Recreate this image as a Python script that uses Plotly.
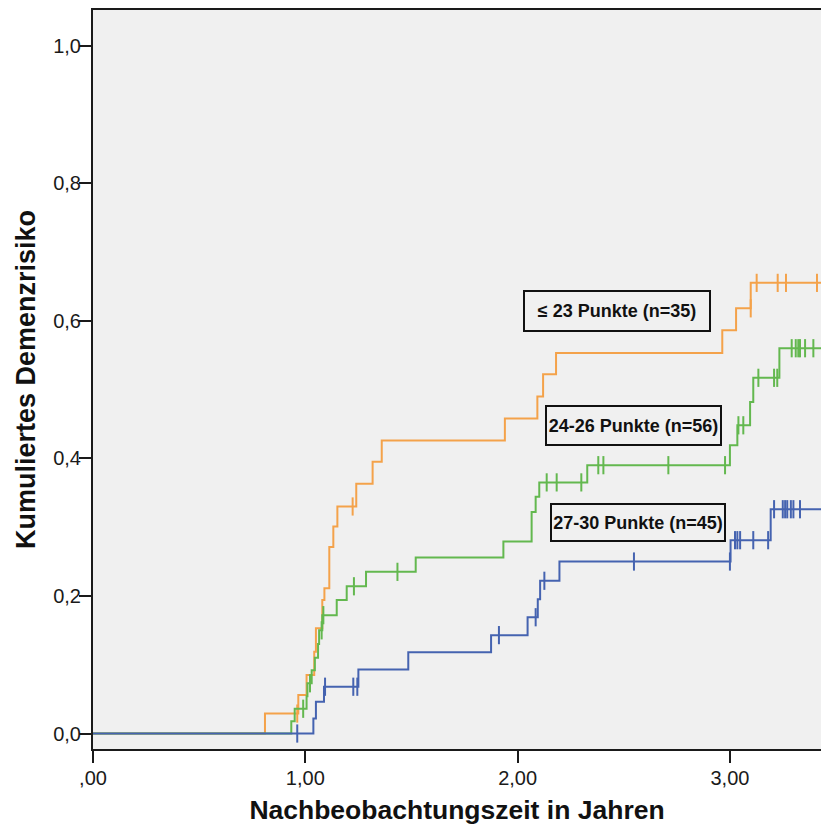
import plotly.graph_objects as go

# ---- data ----
# Step curves: event times (years) and cumulative risk after each step
orange_t = [0.0, 0.81, 0.967, 1.006, 1.042, 1.05, 1.08, 1.09, 1.113, 1.132, 1.151, 1.24, 1.317, 1.36, 1.94, 2.093, 2.12, 2.181, 2.964, 3.029, 3.098, 3.45]
orange_v = [0.0, 0.029, 0.056, 0.085, 0.119, 0.153, 0.194, 0.211, 0.271, 0.301, 0.330, 0.363, 0.395, 0.426, 0.458, 0.490, 0.522, 0.553, 0.586, 0.618, 0.655, 0.655]
orange_ct = [0.962, 1.223, 3.098, 3.126, 3.225, 3.264, 3.41]
orange_cv = [0.029, 0.330, 0.618, 0.655, 0.655, 0.655, 0.655]

green_t = [0.0, 0.934, 0.95, 1.006, 1.01, 1.03, 1.045, 1.06, 1.065, 1.08, 1.148, 1.195, 1.286, 1.52, 1.933, 2.066, 2.085, 2.102, 2.328, 3.0, 3.035, 3.095, 3.11, 3.233, 3.45]
green_v = [0.0, 0.018, 0.036, 0.054, 0.073, 0.092, 0.110, 0.130, 0.150, 0.172, 0.194, 0.214, 0.235, 0.256, 0.279, 0.322, 0.344, 0.365, 0.390, 0.419, 0.448, 0.482, 0.517, 0.560, 0.560]
green_ct = [0.99, 1.022, 1.077, 1.085, 1.229, 1.434, 2.137, 2.184, 2.30, 2.38, 2.404, 2.71, 2.977, 3.04, 3.063, 3.134, 3.208, 3.223, 3.291, 3.31, 3.322, 3.33, 3.354, 3.393]
green_cv = [0.036, 0.073, 0.150, 0.172, 0.214, 0.235, 0.365, 0.365, 0.365, 0.390, 0.390, 0.390, 0.390, 0.448, 0.448, 0.517, 0.517, 0.517, 0.560, 0.560, 0.560, 0.560, 0.560, 0.560]

blue_t = [0.0, 1.038, 1.05, 1.088, 1.25, 1.485, 1.875, 2.047, 2.095, 2.106, 2.197, 3.003, 3.192, 3.45]
blue_v = [0.0, 0.022, 0.046, 0.068, 0.093, 0.118, 0.143, 0.169, 0.195, 0.222, 0.250, 0.281, 0.326, 0.326]
blue_ct = [0.962, 1.093, 1.226, 1.245, 1.912, 2.085, 2.126, 2.548, 3.0, 3.024, 3.035, 3.048, 3.11, 3.18, 3.208, 3.249, 3.26, 3.27, 3.287, 3.299, 3.33]
blue_cv = [0.0, 0.068, 0.068, 0.068, 0.143, 0.169, 0.222, 0.250, 0.250, 0.281, 0.281, 0.281, 0.281, 0.281, 0.326, 0.326, 0.326, 0.326, 0.326, 0.326, 0.326]

group_labels = ["\u2264 23 Punkte (n=35)", "24-26 Punkte (n=56)", "27-30 Punkte (n=45)"]
x_ticks = [0, 1, 2, 3]
x_ticktext = [",00", "1,00", "2,00", "3,00"]
y_ticks = [0.0, 0.2, 0.4, 0.6, 0.8, 1.0]
y_ticktext = ["0,0", "0,2", "0,4", "0,6", "0,8", "1,0"]

ORANGE = "#f4a24a"
GREEN = "#63b84f"
BLUE = "#4563b0"
FONT = "Liberation Sans, Arial, Helvetica, sans-serif"

fig = go.Figure()
series = [
    (orange_t, orange_v, orange_ct, orange_cv, ORANGE, group_labels[0]),
    (green_t, green_v, green_ct, green_cv, GREEN, group_labels[1]),
    (blue_t, blue_v, blue_ct, blue_cv, BLUE, group_labels[2]),
]
for t, v, ct, cv, col, name in series:
    fig.add_trace(go.Scatter(x=t, y=v, mode="lines", line=dict(color=col, width=2, shape="hv"),
                             name=name, showlegend=False))
    fig.add_trace(go.Scatter(x=ct, y=cv, mode="markers",
                             marker=dict(symbol="line-ns-open", size=13, color=col,
                                         line=dict(color=col, width=2)),
                             showlegend=False, hoverinfo="skip"))

box_specs = [
    (group_labels[0], 2.468, 0.6137, 182, 36),
    (group_labels[1], 2.548, 0.4473, 171, 35),
    (group_labels[2], 2.567, 0.3065, 170, 33),
]
for txt, xc, yc, w, h in box_specs:
    fig.add_annotation(x=xc, y=yc, xref="x", yref="y", text="<b>%s</b>" % txt, showarrow=False,
                       font=dict(family=FONT, size=18, color="#111111"),
                       bgcolor="#f0f0f0", bordercolor="#111111", borderwidth=2, borderpad=1,
                       width=w, height=h, xanchor="center", yanchor="middle")

fig.update_layout(
    width=821, height=831,
    margin=dict(l=93, r=0, t=10, b=82),
    paper_bgcolor="white", plot_bgcolor="#f0f0f0",
    font=dict(family=FONT, color="#1a1a1a"),
    xaxis=dict(range=[0, 3.429], tickvals=x_ticks, ticktext=x_ticktext,
               showline=True, linecolor="#1a1a1a", linewidth=2, mirror=True,
               ticks="outside", ticklen=12, tickwidth=2, tickcolor="#1a1a1a",
               ticklabelstandoff=-2,
               showgrid=False, zeroline=False, tickfont=dict(size=20, family=FONT),
               title=dict(text="<b>Nachbeobachtungszeit in Jahren</b>", font=dict(size=26.5, family=FONT, color="#111111"), standoff=12)),
    yaxis=dict(range=[-0.0225, 1.0516], tickvals=y_ticks, ticktext=y_ticktext,
               showline=True, linecolor="#1a1a1a", linewidth=2,
               ticks="outside", ticklen=12, tickwidth=2, tickcolor="#1a1a1a",
               ticklabelstandoff=-6,
               showgrid=False, zeroline=False, tickfont=dict(size=20, family=FONT),
               title=dict(text="<b>Kumuliertes Demenzrisiko</b>", font=dict(size=27, family=FONT, color="#111111"), standoff=10)),
)

fig.write_html("out.html", config={"displayModeBar": False},
               post_script="document.body.style.margin='0';document.body.style.padding='0';")
